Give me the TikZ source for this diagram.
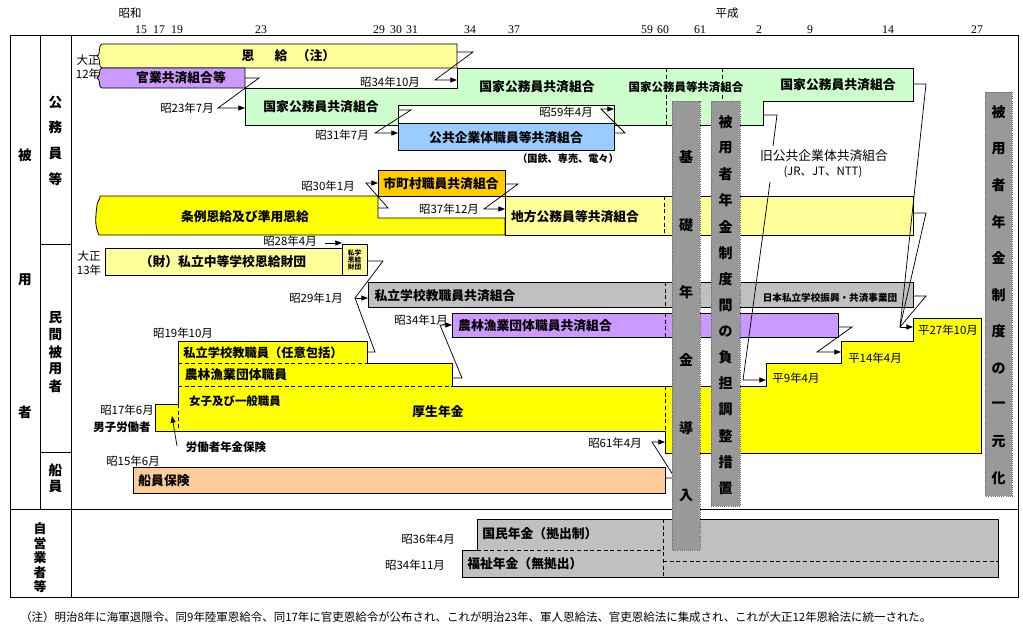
\documentclass[tikz,border=0pt]{standalone}
\usepackage{fontspec}
\setmainfont{Liberation Serif}
\newfontfamily\jp{Noto Sans CJK JP}
\usetikzlibrary{arrows.meta}
\definecolor{cPale}{HTML}{FFFF99}
\definecolor{cYel}{HTML}{FFFF00}
\definecolor{cPur}{HTML}{CC99FF}
\definecolor{cGrn}{HTML}{CCFFCC}
\definecolor{cBlu}{HTML}{99CCFF}
\definecolor{cOrg}{HTML}{FFCC00}
\definecolor{cSil}{HTML}{C0C0C0}
\definecolor{cPch}{HTML}{FFCC99}
\definecolor{cGry}{HTML}{999999}
\tikzset{
  bar/.style={draw=black, line width=0.6pt},
  lbl/.style={font=\jp\bfseries\fontsize{9.6}{11}\selectfont, inner sep=0pt},
  slbl/.style={font=\jp\bfseries\fontsize{8.6}{10}\selectfont, inner sep=0pt},
  date/.style={font=\jp\fontsize{8.6}{10}\selectfont, inner sep=0pt},
  tick/.style={font=\fontsize{8.8}{10}\selectfont, inner sep=0pt},
  side/.style={font=\jp\bfseries\fontsize{10.2}{12}\selectfont, inner sep=0pt},
  vch/.style={font=\jp\bfseries\fontsize{10.5}{12}\selectfont, inner sep=0pt},
  zz/.style={draw, line width=0.55pt},
  za/.style={zz, -{Triangle[length=5pt,width=3.8pt]}},
  vbox/.style={fill=cGry, draw=black!60, densely dotted, line width=0.6pt},
  dsh/.style={draw, line width=0.55pt, dash pattern=on 3pt off 2pt},
}
\begin{document}
\begin{tikzpicture}[x=0.75pt,y=-0.75pt]
\useasboundingbox (0,0) rectangle (1023,632);
% ---------- frame ----------
\draw[line width=0.7pt] (10,35) rectangle (1018,597);
\draw[line width=0.7pt] (40,35) -- (40,509);
\draw[line width=0.7pt] (71,35) -- (71,597);
\draw[line width=0.7pt] (10,509) -- (1018,509);
\draw[line width=0.7pt] (40,244) -- (71,244);
\draw[line width=0.7pt] (40,452) -- (71,452);
% ---------- era / ticks ----------
\node[date] (showa) at (130,13) {昭和};
\node[date] (heisei) at (727,13) {平成};
\foreach \t/\x in {15/141,17/159,19/177,23/261,29/379,30/396,31/412,34/470,37/514,59/647,60/663,61/700,2/759,9/810,14/888,27/977}
  \node[tick] (tk\t) at (\x,30) {\t};
% ---------- side labels ----------
\node[side] (s1) at (25,155) {被};
\node[side] (s2) at (25,280) {用};
\node[side] (s3) at (25,412) {者};
\foreach \c [count=\i from 0] in {公,務,員,等}
  \node[side] (ko\i) at (55.5,102+25.7*\i) {\c};
\foreach \c [count=\i from 0] in {民,間,被,用,者}
  \node[side] (mi\i) at (55.5,318+17*\i) {\c};
\node[side] (se0) at (55.5,470) {船};
\node[side] (se1) at (55.5,486.5) {員};
\foreach \c [count=\i from 0] in {自,営,業,者,等}
  \node[side, font=\jp\bfseries\fontsize{9.6}{11}\selectfont] (ji\i) at (40,529+14.5*\i) {\c};
% ---------- 公務員等 ----------
\draw[bar, fill=cPale] (457,44) -- (457,68) -- (102,68) .. controls (98,68) and (101,57) .. (97,56) .. controls (101,55) and (98,44) .. (102,44) -- cycle;
\draw[bar, fill=cPur] (245,68) -- (245,88) -- (102,88) .. controls (98,88) and (101,79) .. (97,78) .. controls (101,77) and (98,68) .. (102,68) -- cycle;
\draw[bar, fill=cGrn] (245,88) -- (457,88) -- (457,68) -- (913,68) -- (913,101) -- (763,101) -- (763,125) -- (245,125) -- cycle;
\draw[bar, fill=white] (398,105) rectangle (614,123);
\draw[bar, fill=cBlu] (398,123) rectangle (614,150);
\draw[dsh] (666,68) -- (666,125);
\draw[dsh] (722,68) -- (722,101);
\node[lbl] (onkyu1) at (248,56) {恩};
\node[lbl] (onkyu2) at (281,56) {給};
\node[lbl] (onkyu3) at (316,56) {（注）};
\node[date] (tai12a) at (88,60) {大正};
\node[date] (tai12b) at (88,74) {12年};
\node[lbl] (kangyo) at (181,78) {官業共済組合等};
\node[lbl] (kokka1) at (321,107) {国家公務員共済組合};
\node[lbl] (kokka2) at (537,87) {国家公務員共済組合};
\node[slbl] (kokka3) at (686,87) {国家公務員等共済組合};
\node[lbl] (kokka4) at (838,85) {国家公務員共済組合};
\node[lbl] (kokyo) at (506,138) {公共企業体職員等共済組合};
\node[font=\jp\bfseries\fontsize{7.6}{9}\selectfont, inner sep=0pt] (kokutetsu) at (568,159) {（国鉄、専売、電々）};
\node[lbl, font=\jp\fontsize{9.6}{11}\selectfont] (kyukokyo) at (824,156) {旧公共企業体共済組合};
\node[date] (jrjt) at (823,172) {(JR、JT、NTT)};
% 地方
\draw[bar, fill=cYel] (378,196) -- (378,218) -- (505,218) -- (505,235) -- (99,235) .. controls (94,225) and (96,215) .. (97,205) .. controls (98,200) and (101,198) .. (100,196) -- cycle;
\draw[bar, fill=cOrg] (378,170) rectangle (505,196);
\draw[bar, fill=cPale] (505,196) rectangle (913,235);
\draw[dsh] (664,196) -- (664,235);
\node[lbl] (jorei) at (245,217) {条例恩給及び準用恩給};
\node[lbl] (shicho) at (441,184) {市町村職員共済組合};
\node[lbl] (chiho) at (575,217) {地方公務員等共済組合};
% ---------- 民間被用者 ----------
\draw[bar, fill=cPale] (105,248) rectangle (342,275);
\draw[bar, fill=cPale] (342,244) rectangle (367,275);
\node[lbl] (zaidan) at (223,262) {（財）私立中等学校恩給財団};
\node[font=\jp\bfseries\fontsize{5}{6}\selectfont, inner sep=0pt, align=center] (shigaku) at (354.5,260) {私学\\[-0.5pt]恩給\\[-0.5pt]財団};
\node[date] (tai13a) at (89,256) {大正};
\node[date] (tai13b) at (89,270) {13年};
\draw[bar, fill=cSil] (368,282) rectangle (913,307);
\draw[dsh] (665,282) -- (665,307);
\node[lbl] (shiritsu) at (445,296) {私立学校教職員共済組合};
\node[font=\jp\bfseries\fontsize{7.2}{9}\selectfont, inner sep=0pt] (shinko) at (830,298) {日本私立学校振興・共済事業団};
\draw[bar, fill=cPur] (452,313) rectangle (838,337);
\draw[dsh] (665,313) -- (665,337);
\node[lbl] (norin) at (535,326) {農林漁業団体職員共済組合};
% 厚生年金
\draw[bar, fill=cYel] (155,404) -- (178,404) -- (178,341) -- (367,341) -- (367,363) -- (452,363) -- (452,386) -- (766,386) -- (766,363) -- (841,363) -- (841,341) -- (913,341) -- (913,318) -- (981,318) -- (981,453) -- (665,453) -- (665,431) -- (155,431) -- cycle;
\draw[dsh] (178,363) -- (367,363);
\draw[dsh] (178,386) -- (452,386);
\draw[dsh] (178,404) -- (178,431);
\draw[dsh] (665,386) -- (665,431);
\node[lbl, font=\jp\bfseries\fontsize{9.2}{11}\selectfont] (nini) at (263,353) {私立学校教職員（任意包括）};
\node[lbl] (norin2) at (236,375) {農林漁業団体職員};
\node[slbl] (joshi) at (235,401) {女子及び一般職員};
\node[lbl] (kosei) at (438,412) {厚生年金};
\node[slbl] (danshi) at (122,427) {男子労働者};
\node[date] (s17) at (127,410) {昭17年6月};
\node[slbl] (rodo) at (226,447) {労働者年金保険};
\node[date] (s19) at (183,333) {昭19年10月};
% ---------- 船員 ----------
\draw[bar, fill=cPch] (133,467) rectangle (665,493);
\node[lbl] (senin) at (164,481) {船員保険};
\node[date] (s15) at (133,461) {昭15年6月};
% ---------- 自営業者等 ----------
\draw[bar, fill=cSil] (477,519) -- (998,519) -- (998,577) -- (462,577) -- (462,550) -- (477,550) -- cycle;
\draw[dsh] (477,550) -- (663,550);
\draw[dsh] (663,519) -- (663,577);
\draw[dsh] (663,561) -- (998,561);
\node[lbl, anchor=west] (kokumin) at (482,534) {国民年金（拠出制）};
\node[lbl, anchor=west] (fukushi) at (467,563.5) {福祉年金（無拠出）};
\node[date] (s36) at (428,539) {昭36年4月};
\node[date] (s3411) at (415,565) {昭34年11月};
% ---------- date labels ----------
\node[date] (s3410) at (390,82) {昭34年10月};
\node[date] (s23) at (187,108) {昭23年7月};
\node[date] (s31) at (342,135) {昭31年7月};
\node[date] (s59) at (566,112) {昭59年4月};
\node[date] (s30) at (328,186) {昭30年1月};
\node[date] (s3712) at (449,209) {昭37年12月};
\node[date] (s28) at (290,241) {昭28年4月};
\node[date] (s29) at (316,298) {昭29年1月};
\node[date] (s341) at (421,320) {昭34年1月};
\node[date] (s61) at (615,443) {昭61年4月};
\node[date] (h9) at (796,378) {平9年4月};
\node[date] (h14) at (875,358) {平14年4月};
\node[date] (h27) at (948,330) {平27年10月};
% ---------- connectors ----------
\coordinate (pA0) at (457,52); \coordinate (pA1) at (473,52); \coordinate (pA2) at (435,80); \coordinate (pA3) at (457,80);
\draw[za] (pA0) -- (pA1) -- (pA2) -- (pA3);
\coordinate (pB0) at (245,78); \coordinate (pB1) at (259,78); \coordinate (pB2) at (218,108); \coordinate (pB3) at (245,108);
\draw[za] (pB0) -- (pB1) -- (pB2) -- (pB3);
\coordinate (pC0) at (398,110); \coordinate (pC1) at (411,110); \coordinate (pC2) at (375,133); \coordinate (pC3) at (398,133);
\draw[za] (pC0) -- (pC1) -- (pC2) -- (pC3);
\coordinate (pD0) at (614,133); \coordinate (pD1) at (625,133); \coordinate (pD2) at (601,109); \coordinate (pD3) at (614,109);
\draw[za] (pD0) -- (pD1) -- (pD2) -- (pD3);
\coordinate (pE0) at (763,115); \coordinate (pE1) at (777,115); \coordinate (pE2) at (773,146);
\draw[zz] (pE0) -- (pE1) -- (pE2);
\coordinate (pE3) at (770,182); \coordinate (pE4) at (743,380); \coordinate (pE5) at (766,380);
\draw[za] (pE3) -- (pE4) -- (pE5);
\coordinate (pF) at (900,327); \coordinate (pF1) at (913,327);
\draw[zz] (913,84) -- (926,84) -- (pF);
\draw[zz] (913,213) -- (926,213) -- (pF);
\draw[zz] (913,296) -- (926,296) -- (pF);
\draw[za] (pF) -- (pF1);
\coordinate (pG0) at (838,327); \coordinate (pG1) at (852,327); \coordinate (pG2) at (817,352); \coordinate (pG3) at (841,352);
\draw[za] (pG0) -- (pG1) -- (pG2) -- (pG3);
\coordinate (pH0) at (378,208); \coordinate (pH1) at (388,208); \coordinate (pH2) at (366,183); \coordinate (pH3) at (378,183);
\draw[za] (pH0) -- (pH1) -- (pH2) -- (pH3);
\coordinate (pI0) at (505,184); \coordinate (pI1) at (518,184); \coordinate (pI2) at (484,209); \coordinate (pI3) at (505,209);
\draw[za] (pI0) -- (pI1) -- (pI2) -- (pI3);
\coordinate (pJ0) at (325,243); \coordinate (pJ1) at (342,243);
\draw[za] (pJ0) -- (pJ1);
\coordinate (pK) at (355,298); \coordinate (pK1) at (368,298);
\draw[zz] (367,261) -- (383,261) -- (pK);
\draw[zz] (367,352) -- (375,352) -- (pK);
\draw[za] (pK) -- (pK1);
\coordinate (pL0) at (452,378); \coordinate (pL1) at (462,378); \coordinate (pL2) at (440,325); \coordinate (pL3) at (452,325);
\draw[za] (pL0) -- (pL1) -- (pL2) -- (pL3);
\coordinate (pM0) at (177,446); \coordinate (pM1) at (172,416);
\draw[za] (pM0) -- (pM1);
\coordinate (pN0) at (665,478); \coordinate (pN1) at (675,478); \coordinate (pN2) at (652,442); \coordinate (pN3) at (665,442);
\draw[za] (pN0) -- (pN1) -- (pN2) -- (pN3);
% ---------- vertical grey boxes ----------
\draw[vbox] (672,101) rectangle (700,550);
\foreach \c [count=\i from 0] in {基,礎,年,金,導,入}
  \node[vch] (kiso\i) at (686,157+67.8*\i) {\c};
\draw[vbox] (711,101) rectangle (740,506);
\foreach \c [count=\i from 0] in {被,用,者,年,金,制,度,間,の,負,担,調,整,措,置}
  \node[vch] (futan\i) at (725.5,122+26.15*\i) {\c};
\draw[vbox] (985,92) rectangle (1012,496);
\foreach \c [count=\i from 0] in {被,用,者,年,金,制,度,の,一,元,化}
  \node[vch] (ichi\i) at (998.5,112+36.6*\i) {\c};
% ---------- footnote ----------
\node[date, anchor=west, font=\jp\fontsize{8.6}{10}\selectfont] (note) at (20,617) {（注）明治8年に海軍退隠令、同9年陸軍恩給令、同17年に官吏恩給令が公布され、これが明治23年、軍人恩給法、官吏恩給法に集成され、これが大正12年恩給法に統一された。};
\end{tikzpicture}
\end{document}
